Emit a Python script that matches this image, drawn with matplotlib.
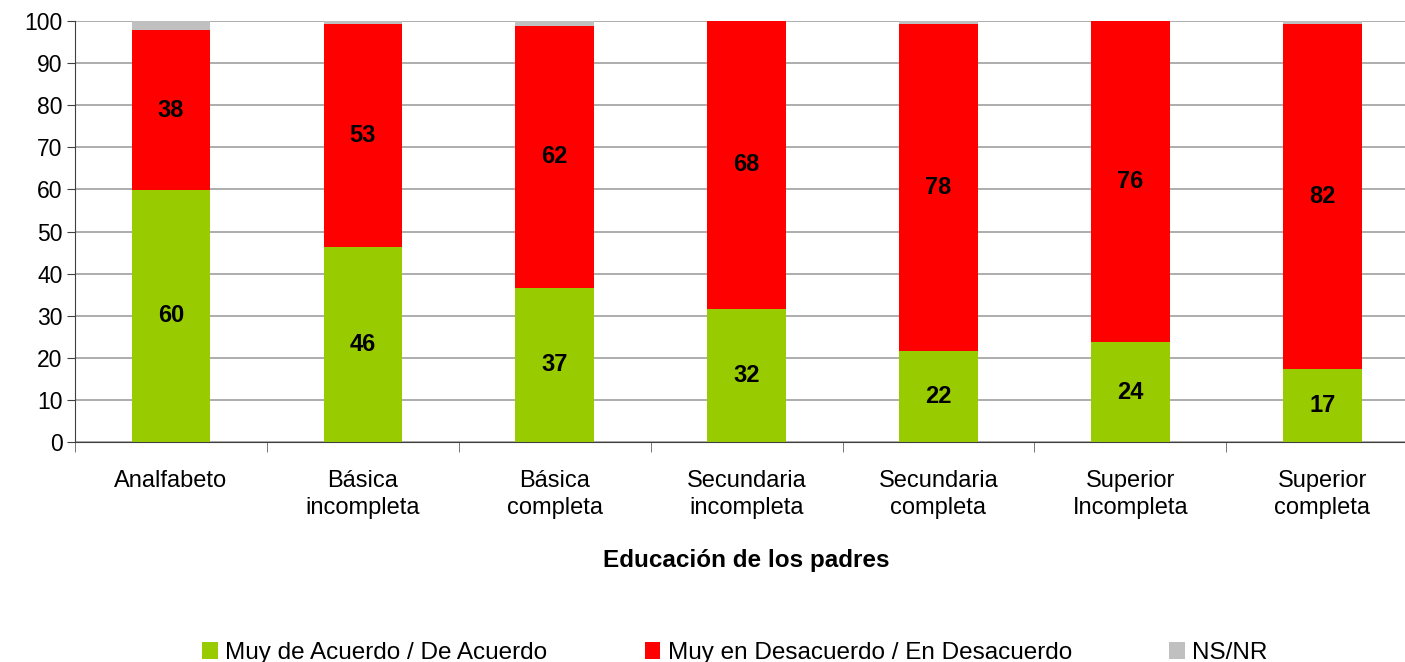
import matplotlib

matplotlib.use("Agg")
import matplotlib.pyplot as plt
from matplotlib.patches import Patch

plt.rcParams["font.family"] = ["Liberation Sans", "DejaVu Sans"]

categories = ["Analfabeto", "Básica\nincompleta", "Básica\ncompleta", "Secundaria\nincompleta",
              "Secundaria\ncompleta", "Superior\nIncompleta", "Superior\ncompleta"]
acuerdo = [59.9, 46.4, 36.6, 31.6, 21.6, 23.7, 17.4]
desacuerdo = [37.9, 53.0, 62.2, 68.4, 77.8, 76.3, 81.9]
nsnr = [2.2, 0.6, 1.2, 0.0, 0.6, 0.0, 0.7]
series_names = ["Muy de Acuerdo / De Acuerdo", "Muy en Desacuerdo / En Desacuerdo", "NS/NR"]
colors = ["#99cc00", "#ff0000", "#c0c0c0"]

fig = plt.figure(figsize=(14.05, 6.62), dpi=100)
ax = fig.add_axes([0.0534, 0.3323, 0.956, 0.636])

x = list(range(len(categories)))
w = 0.41
bottoms = [0.0] * len(x)
for vals, c in zip([acuerdo, desacuerdo, nsnr], colors):
    ax.bar(x, vals, w, bottom=bottoms, color=c, zorder=2)
    bottoms = [b + v for b, v in zip(bottoms, vals)]

# value labels in the middle of the two main segments
for i in x:
    ax.text(i, acuerdo[i] / 2, f"{acuerdo[i]:.0f}", ha="center", va="center",
            fontsize=17, fontweight="bold", zorder=3)
    ax.text(i, acuerdo[i] + desacuerdo[i] / 2, f"{desacuerdo[i]:.0f}", ha="center", va="center",
            fontsize=17, fontweight="bold", zorder=3)

ax.set_xlim(-0.5, len(categories) - 0.5)
ax.set_ylim(0, 100)
ax.set_yticks(range(0, 101, 10))
ax.grid(axis="y", color="#a0a0a0", linewidth=1.2, zorder=0)
ax.set_xticks(x)
ax.set_xticklabels(categories, fontsize=17, linespacing=1.3)
ax.tick_params(axis="x", length=0, pad=20)
ax.set_xticks([i - 0.5 for i in range(len(categories) + 1)], minor=True)
ax.tick_params(axis="x", which="minor", length=7, color="#606060", direction="out")
ax.tick_params(axis="y", labelsize=16.5, length=6, color="#404040", pad=3)
for s in ["top", "right"]:
    ax.spines[s].set_visible(False)
ax.spines["left"].set_color("#404040")
ax.spines["bottom"].set_color("#404040")

ax.set_xlabel("Educación de los padres", fontsize=17.5, fontweight="bold", labelpad=22)

handles = [Patch(facecolor=c, label=n) for c, n in zip(colors, series_names)]
fig.legend(handles=handles, loc="lower center", bbox_to_anchor=(0.523, -0.036), ncol=3,
           frameon=False, fontsize=17.5, handlelength=0.65, handleheight=0.65,
           handletextpad=0.3, columnspacing=4.0)

fig.savefig("out.png", dpi=100)
